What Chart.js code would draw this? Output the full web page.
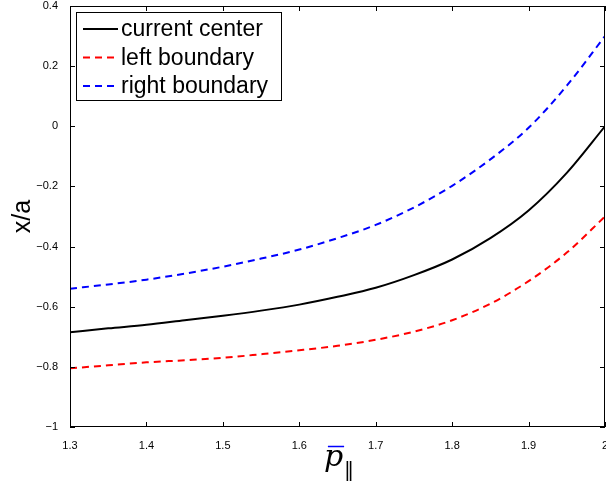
<!DOCTYPE html>
<html>
<head>
<meta charset="utf-8">
<script src="https://cdn.jsdelivr.net/npm/chart.js@4"></script>
<style>
  html, body { margin: 0; padding: 0; background: #fff; }
  #wrap { width: 606px; height: 481px; }
</style>
</head>
<body>
<div id="wrap"><canvas id="profileChart"></canvas></div>
<script>
// p-bar values along the x axis
const pValues = [1.30, 1.35, 1.40, 1.45, 1.50, 1.55, 1.60, 1.65, 1.70, 1.75, 1.80, 1.85, 1.90, 1.95, 2.00];
const centerValues = [-0.685, -0.672, -0.660, -0.645, -0.630, -0.613, -0.593, -0.567, -0.537, -0.495, -0.443, -0.372, -0.280, -0.155, 0.000];
const leftValues = [-0.805, -0.795, -0.785, -0.778, -0.770, -0.758, -0.745, -0.730, -0.710, -0.683, -0.645, -0.590, -0.515, -0.420, -0.300];
const rightValues = [-0.540, -0.526, -0.510, -0.490, -0.467, -0.440, -0.410, -0.372, -0.328, -0.270, -0.198, -0.110, -0.005, 0.135, 0.300];

const xTicks = [1.3, 1.4, 1.5, 1.6, 1.7, 1.8, 1.9, 2.0];
const yTicks = [-1, -0.8, -0.6, -0.4, -0.2, 0, 0.2, 0.4];

const toPoints = vals => vals.map((v, i) => ({ x: pValues[i], y: v }));

function fmt(v) {
    const s = String(Math.round(v * 10) / 10);
    return s.replace('-', '\u2212');
}

const FONT = "'Liberation Sans', Arial, sans-serif";

// frame, inward ticks, legend box and x label, MATLAB style
const matlabLook = {
    id: 'matlabLook',
    afterDraw(chart) {
        const c = chart.ctx;
        const a = chart.chartArea;
        const xs = chart.scales.x, ys = chart.scales.y;
        c.save();
        c.strokeStyle = '#000';
        c.lineWidth = 1;
        c.setLineDash([]);
        c.strokeRect(a.left + 0.5, a.top + 0.5, a.right - a.left - 1, a.bottom - a.top - 1);

        c.beginPath();
        xTicks.forEach(t => {
            const px = Math.round(xs.getPixelForValue(t)) + 0.5;
            c.moveTo(px, a.bottom); c.lineTo(px, a.bottom - 5);
            c.moveTo(px, a.top); c.lineTo(px, a.top + 5);
        });
        yTicks.forEach(t => {
            const py = Math.round(ys.getPixelForValue(t)) + 0.5;
            c.moveTo(a.left, py); c.lineTo(a.left + 5, py);
            c.moveTo(a.right, py); c.lineTo(a.right - 5, py);
        });
        c.stroke();

        // legend
        const bx = 76, by = 12, bw = 205, bh = 88;
        c.fillStyle = '#fff';
        c.fillRect(bx, by, bw, bh);
        c.strokeRect(bx + 0.5, by + 0.5, bw, bh);
        c.font = '23px ' + FONT;
        c.textBaseline = 'middle';
        chart.data.datasets.forEach((ds, i) => {
            const yy = 29 + i * 28.5;
            c.strokeStyle = ds.borderColor;
            c.lineWidth = 2;
            c.setLineDash(ds.borderDash || []);
            c.beginPath();
            c.moveTo(83, yy); c.lineTo(118, yy);
            c.stroke();
            c.fillStyle = '#000';
            c.fillText(ds.label, 121, yy + 1);
        });

        // x label: p-bar with parallel subscript
        c.setLineDash([]);
        const cx = (a.left + a.right) / 2;
        c.fillStyle = '#000';
        c.textBaseline = 'alphabetic';
        c.font = 'italic 30px "DejaVu Serif", "Liberation Serif", serif';
        const pw = c.measureText('p').width;
        const x0 = cx - (pw + 8) / 2;
        c.fillText('p', x0, 466);
        c.lineWidth = 1.5;
        c.beginPath();
        c.moveTo(x0 + 4, 446.5); c.lineTo(x0 + pw + 1, 446.5);
        c.stroke();
        c.font = '20px "DejaVu Serif", "Liberation Serif", serif';
        c.fillText('\u2016', x0 + pw + 1, 476);
        c.restore();
    }
};

new Chart(document.getElementById('profileChart'), {
    type: 'line',
    data: {
        datasets: [
            { label: 'current center', data: toPoints(centerValues), borderColor: '#000000', borderWidth: 2 },
            { label: 'left boundary', data: toPoints(leftValues), borderColor: '#ff0000', borderWidth: 2, borderDash: [7, 5] },
            { label: 'right boundary', data: toPoints(rightValues), borderColor: '#0000ff', borderWidth: 2, borderDash: [7, 5] }
        ]
    },
    options: {
        responsive: true,
        maintainAspectRatio: false,
        animation: false,
        elements: {
            point: { radius: 0 },
            line: { cubicInterpolationMode: 'monotone', fill: false }
        },
        layout: { padding: { top: 6, right: 1, left: 0, bottom: 0 } },
        plugins: {
            legend: { display: false },
            tooltip: { enabled: false }
        },
        scales: {
            x: {
                type: 'linear',
                min: 1.3,
                max: 2.0,
                afterBuildTicks: s => { s.ticks = xTicks.map(v => ({ value: v })); },
                afterFit: s => { s.height = 54; s.paddingLeft = 0; s.paddingRight = 0; },
                grid: { display: false },
                border: { display: false },
                ticks: {
                    padding: 4,
                    color: '#000',
                    font: { family: FONT, size: 11 },
                    maxRotation: 0,
                    callback: v => fmt(v)
                }
            },
            y: {
                min: -1,
                max: 0.4,
                afterBuildTicks: s => { s.ticks = yTicks.map(v => ({ value: v })); },
                afterFit: s => { s.width = 70; s.paddingTop = 0; s.paddingBottom = 0; },
                grid: { display: false },
                border: { display: false },
                title: {
                    display: true,
                    text: 'x/a',
                    color: '#000',
                    font: { family: FONT, size: 25 },
                    padding: { top: 8, bottom: 0 }
                },
                ticks: {
                    padding: 4,
                    color: '#000',
                    font: { family: FONT, size: 11 },
                    callback: v => fmt(v)
                }
            }
        }
    },
    plugins: [matlabLook]
});
</script>
</body>
</html>
